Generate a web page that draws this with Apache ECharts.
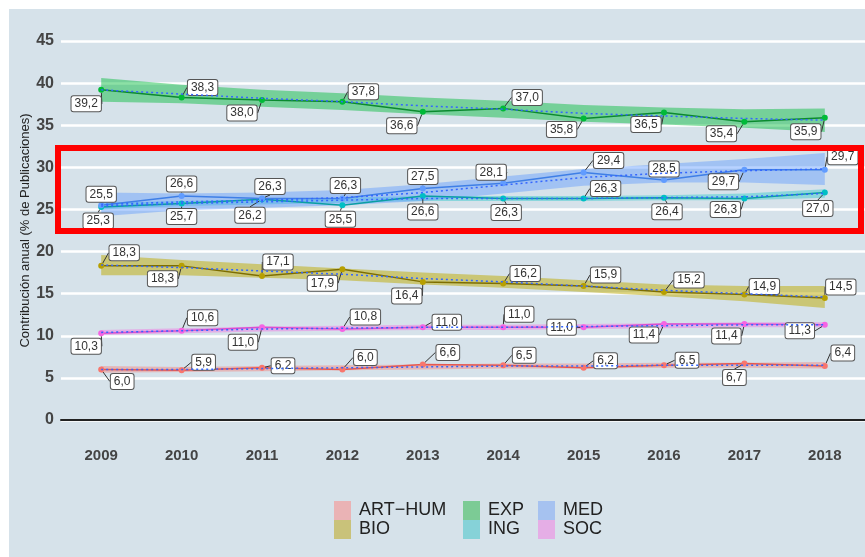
<!DOCTYPE html>
<html>
<head>
<meta charset="utf-8">
<style>
	html,body{ margin:0; padding:0; background:#fff;}
	#mainBox{ width:865px; height:557px;}
</style>
</head>
<body>
<div id="mainBox"></div>
<script src="https://cdn.jsdelivr.net/npm/echarts@6/dist/echarts.min.js"></script>
<script>
// years on the x axis
var years=['2009','2010','2011','2012','2013','2014','2015','2016','2017','2018'];
var yTicks=[0,5,10,15,20,25,30,35,40,45];

// yearly share per area (%)
var artHum=[6.0,5.9,6.2,6.0,6.6,6.5,6.2,6.5,6.7,6.4];
var bio=[18.3,18.3,17.1,17.9,16.4,16.2,15.9,15.2,14.9,14.5];
var exp=[39.2,38.3,38.0,37.8,36.6,37.0,35.8,36.5,35.4,35.9];
var ing=[25.3,25.7,26.2,25.5,26.6,26.3,26.3,26.4,26.3,27.0];
var med=[25.5,26.6,26.3,26.3,27.5,28.1,29.4,28.5,29.7,29.7];
var soc=[10.3,10.6,11.0,10.8,11.0,11.0,11.0,11.4,11.4,11.3];

// smoothed trend and its band
var artFit=[6.0,6.0,6.1,6.2,6.3,6.4,6.4,6.5,6.5,6.5];
var artLo=[5.6,5.7,5.8,5.9,6.0,6.1,6.1,6.2,6.2,6.1];
var artHi=[6.4,6.3,6.4,6.5,6.6,6.7,6.7,6.8,6.8,6.9];
var bioFit=[18.4,18.1,17.7,17.3,16.8,16.4,15.9,15.4,15.0,14.6];
var bioLo=[17.2,17.2,16.9,16.6,16.1,15.7,15.2,14.7,14.1,13.3];
var bioHi=[19.6,19.0,18.5,18.0,17.5,17.1,16.6,16.1,15.9,15.9];
var expFit=[39.2,38.7,38.2,37.8,37.3,36.9,36.4,36.1,35.8,35.6];
var expLo=[37.8,37.6,37.2,36.8,36.3,35.9,35.4,35.1,34.7,34.2];
var expHi=[40.6,39.8,39.2,38.8,38.3,37.9,37.4,37.1,36.9,37.0];
var ingFit=[25.4,25.7,25.9,26.1,26.3,26.3,26.3,26.4,26.5,26.9];
var ingLo=[25.0,25.4,25.6,25.8,26.0,26.0,26.0,26.1,26.1,26.4];
var ingHi=[25.8,26.0,26.2,26.4,26.6,26.6,26.6,26.7,26.9,27.4];
var medFit=[25.6,25.9,26.1,26.4,27.0,27.9,28.8,29.3,29.6,29.8];
var medLo=[24.2,24.9,25.2,25.5,26.0,26.9,27.8,28.2,28.2,27.9];
var medHi=[27.0,26.9,27.0,27.3,28.0,28.9,29.8,30.4,31.0,31.7];
var socFit=[10.4,10.6,10.8,10.9,11.0,11.0,11.1,11.2,11.3,11.3];
var socLo=[10.1,10.3,10.5,10.6,10.7,10.7,10.8,10.9,11.0,11.0];
var socHi=[10.7,10.9,11.1,11.2,11.3,11.3,11.4,11.5,11.6,11.6];

// label nudges (px) like ggrepel
var artNudge=[[21,12],[22,-8],[21,-2],[23,-12],[25,-12],[21,-10],[22,-7],[23,-5],[-10,14],[18,-13]];
var bioNudge=[[23,-13],[-19,13],[16,-14],[-20,14],[-16,14],[22,-10],[22,-11],[25,-12],[20,-8],[16,-11]];
var expNudge=[[-15,14],[21,-10],[-20,13],[21,-10],[-21,14],[24,-11],[-22,11],[-18,12],[-23,12],[-19,14]];
var ingNudge=[[-3,14],[0,13],[-12,16],[-2,14],[0,16],[3,14],[22,-10],[3,14],[-19,11],[-7,16]];
var medNudge=[[0,-11],[0,-12],[8,-12],[3,-13],[0,-12],[-12,-11],[25,-12],[0,-11],[-21,12],[18,-13]];
var socNudge=[[-15,13],[21,-13],[-19,15],[23,-12],[24,-5],[16,-13],[-22,0],[-20,11],[-18,12],[-25,6]];

var areas=[
	{name:'ART\u2212HUM',val:artHum,fit:artFit,lo:artLo,hi:artHi,nudge:artNudge,pt:'#F8766D',ln:'#e5574f',band:'rgba(248,118,109,0.40)',key:'#eab3b5'},
	{name:'BIO',val:bio,fit:bioFit,lo:bioLo,hi:bioHi,nudge:bioNudge,pt:'#B79F00',ln:'#7d6d00',band:'rgba(190,170,0,0.50)',key:'#c9c27a'},
	{name:'EXP',val:exp,fit:expFit,lo:expLo,hi:expHi,nudge:expNudge,pt:'#00BA38',ln:'#0b8a2f',band:'rgba(0,186,56,0.45)',key:'#7ccb95'},
	{name:'ING',val:ing,fit:ingFit,lo:ingLo,hi:ingHi,nudge:ingNudge,pt:'#00BFC4',ln:'#0a9ea3',band:'rgba(0,191,196,0.35)',key:'#86d2d8'},
	{name:'MED',val:med,fit:medFit,lo:medLo,hi:medHi,nudge:medNudge,pt:'#619CFF',ln:'#3f7fe6',band:'rgba(97,156,255,0.45)',key:'#a6c2f0'},
	{name:'SOC',val:soc,fit:socFit,lo:socLo,hi:socHi,nudge:socNudge,pt:'#F564E3',ln:'#d94fd0',band:'rgba(245,100,227,0.40)',key:'#e5aee6'}
];

var series=[];
// bands first so they sit under everything
areas.forEach(function(a){
	series.push({
		name:'band '+a.name,type:'custom',silent:true,z:1,
		data:[0],
		renderItem:function(params,api){
			var pts=[],i;
			for(i=0;i<years.length;i++)pts.push(api.coord([i,a.hi[i]]));
			for(i=years.length-1;i>=0;i--)pts.push(api.coord([i,a.lo[i]]));
			return {type:'polygon',shape:{points:pts},style:{fill:a.band}};
		}
	});
});
areas.forEach(function(a){
	series.push({
		name:a.name,type:'line',z:3,data:a.val,
		symbol:'circle',symbolSize:6,
		itemStyle:{color:a.pt},
		lineStyle:{color:a.ln,width:1.5},
		label:{
			show:true,position:'inside',
			formatter:function(p){return p.value.toFixed(1).replace('.',',');},
			fontFamily:'Liberation Sans',fontSize:12,color:'#333',
			backgroundColor:'#fff',borderColor:'#555',borderWidth:1,borderRadius:2,
			padding:[2,3,1,3]
		},
		labelLine:{show:true,lineStyle:{color:'#333',width:1}},
		labelLayout:function(p){
			var n=a.nudge[p.dataIndex];
			return {dx:n[0],dy:n[1]};
		}
	});
	series.push({
		name:'fit '+a.name,type:'line',z:4,data:a.fit,silent:true,
		symbol:'none',
		lineStyle:{color:'#3366FF',width:1.5,type:[2,3]}
	});
});

var legendBox=function(left,names){
	return {
		orient:'vertical',left:left,top:501,itemGap:0,padding:0,
		icon:'rect',itemWidth:17,itemHeight:19,
		textStyle:{fontFamily:'Liberation Sans',fontSize:18,color:'#222',lineHeight:19,padding:[0,0,0,3]},
		data:names.map(function(n){
			var a=areas.filter(function(x){return x.name==n;})[0];
			return {name:n,itemStyle:{color:a.key}};
		})
	};
};

var myChart=echarts.init(document.getElementById('mainBox'));
myChart.setOption({
	animation:false,
	backgroundColor:'#fff',
	grid:{left:61,right:0,top:41,bottom:137},
	xAxis:{
		type:'category',data:years,boundaryGap:true,offset:18,
		axisLine:{lineStyle:{color:'#222',width:2}},
		axisTick:{show:false},
		axisLabel:{margin:10,fontFamily:'Liberation Sans',fontSize:15,fontWeight:'bold',color:'#444'}
	},
	yAxis:{
		type:'value',min:yTicks[0],max:yTicks[yTicks.length-1],interval:5,
		name:'Contribución anual (% de Publicaciones)',nameLocation:'middle',nameGap:29,
		nameMoveOverlap:false,
		nameTextStyle:{fontFamily:'Liberation Sans',fontSize:13,color:'#222'},
		axisLine:{show:false},axisTick:{show:false},
		axisLabel:{margin:7,fontFamily:'Liberation Sans',fontSize:16,fontWeight:'bold',color:'#444'},
		splitLine:{lineStyle:{color:'#fff',width:2.5}}
	},
	legend:[
		legendBox(334,['ART\u2212HUM','BIO']),
		legendBox(463,['EXP','ING']),
		legendBox(538,['MED','SOC'])
	],
	graphic:[
		{type:'rect',silent:true,z:-10,shape:{x:9,y:9,width:856,height:548},style:{fill:'#d6e2ea'}},
		{type:'rect',silent:true,z:100,shape:{x:58,y:148,width:803,height:83},style:{fill:'none',stroke:'#ff0000',lineWidth:6}}
	],
	series:series
});
</script>
</body>
</html>
